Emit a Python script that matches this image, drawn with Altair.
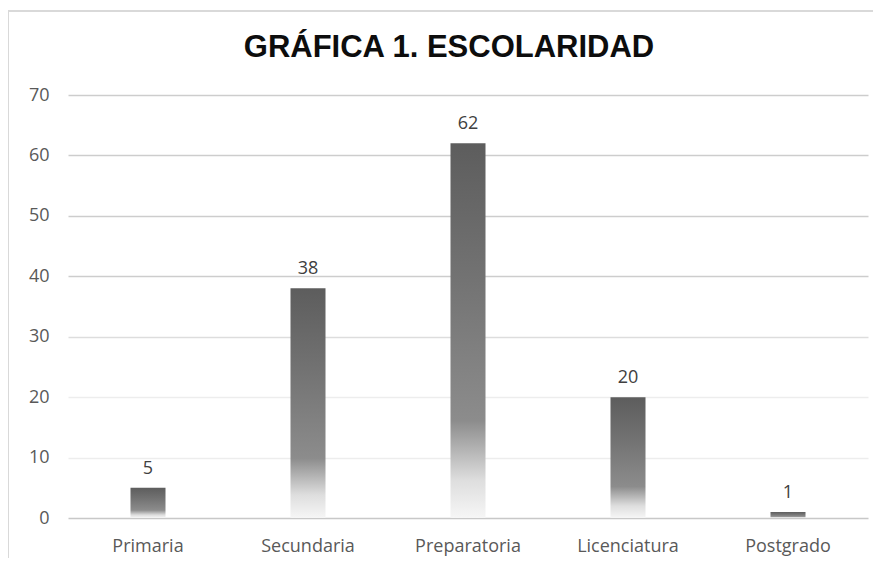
import altair as alt
import pandas as pd

categorias = ["Primaria", "Secundaria", "Preparatoria", "Licenciatura", "Postgrado"]
valores = [5, 38, 62, 20, 1]
ticks_y = [0, 10, 20, 30, 40, 50, 60, 70]

df = pd.DataFrame({"cat": categorias, "val": valores})

grad = alt.Gradient(
    gradient="linear",
    stops=[
        alt.GradientStop(color="#5d5d5d", offset=0),
        alt.GradientStop(color="#727272", offset=0.35),
        alt.GradientStop(color="#8c8c8c", offset=0.74),
        alt.GradientStop(color="#dedede", offset=0.9),
        alt.GradientStop(color="#f6f6f6", offset=1),
    ],
    x1=0, x2=0, y1=0, y2=1,
)

x = alt.X("cat:N", sort=categorias, title=None,
          scale=alt.Scale(paddingInner=0, paddingOuter=0),
          axis=alt.Axis(labelAngle=0, labelFont="Open Sans", labelFontSize=18,
                        labelColor="#595959", labelPadding=19, ticks=False,
                        domain=False, grid=False))

y = alt.Y("val:Q", title=None,
          scale=alt.Scale(domain=[0, 70], nice=False),
          axis=alt.Axis(values=ticks_y, labelFont="Open Sans", labelFontSize=18,
                        labelColor="#595959", labelPadding=19, ticks=False,
                        domain=False, gridWidth=1.5,
                        gridColor={"condition": [
                            {"test": "datum.value == 0", "value": "#c8c8c8"},
                            {"test": "datum.value >= 40", "value": "#cdcdcd"},
                            {"test": "datum.value == 30", "value": "#dddddd"}],
                            "value": "#ededed"}))

bars = alt.Chart(df).mark_bar(size=35, color=grad).encode(x=x, y=y)

labels = alt.Chart(df).mark_text(
    baseline="bottom", dy=-10, font="Open Sans", fontSize=18, color="#404040"
).encode(x=alt.X("cat:N", sort=categorias), y="val:Q", text="val:Q")

frame_top = alt.Chart(df).mark_rule(color="#d9d9d9", strokeWidth=2).encode(
    x=alt.value(-60), x2=alt.value(900), y=alt.value(-84))
frame_left = alt.Chart(df).mark_rule(color="#d9d9d9", strokeWidth=2).encode(
    x=alt.value(-60), y=alt.value(-84), y2=alt.value(600))

chart = alt.layer(frame_top, frame_left, bars, labels).properties(
    width=800, height=423,
    title=alt.TitleParams("GRÁFICA 1. ESCOLARIDAD", font="Liberation Sans",
                          fontSize=31, fontWeight="bold", color="#0d0d0d",
                          anchor="middle", frame="group", dx=-19, offset=-85,
                          baseline="bottom"),
    autosize=alt.AutoSizeParams(type="none"),
    padding={"left": 60, "top": 87, "right": 5, "bottom": 40},
).configure_view(stroke=None)

chart.save("out.html", embed_options={"renderer": "svg", "actions": False})
